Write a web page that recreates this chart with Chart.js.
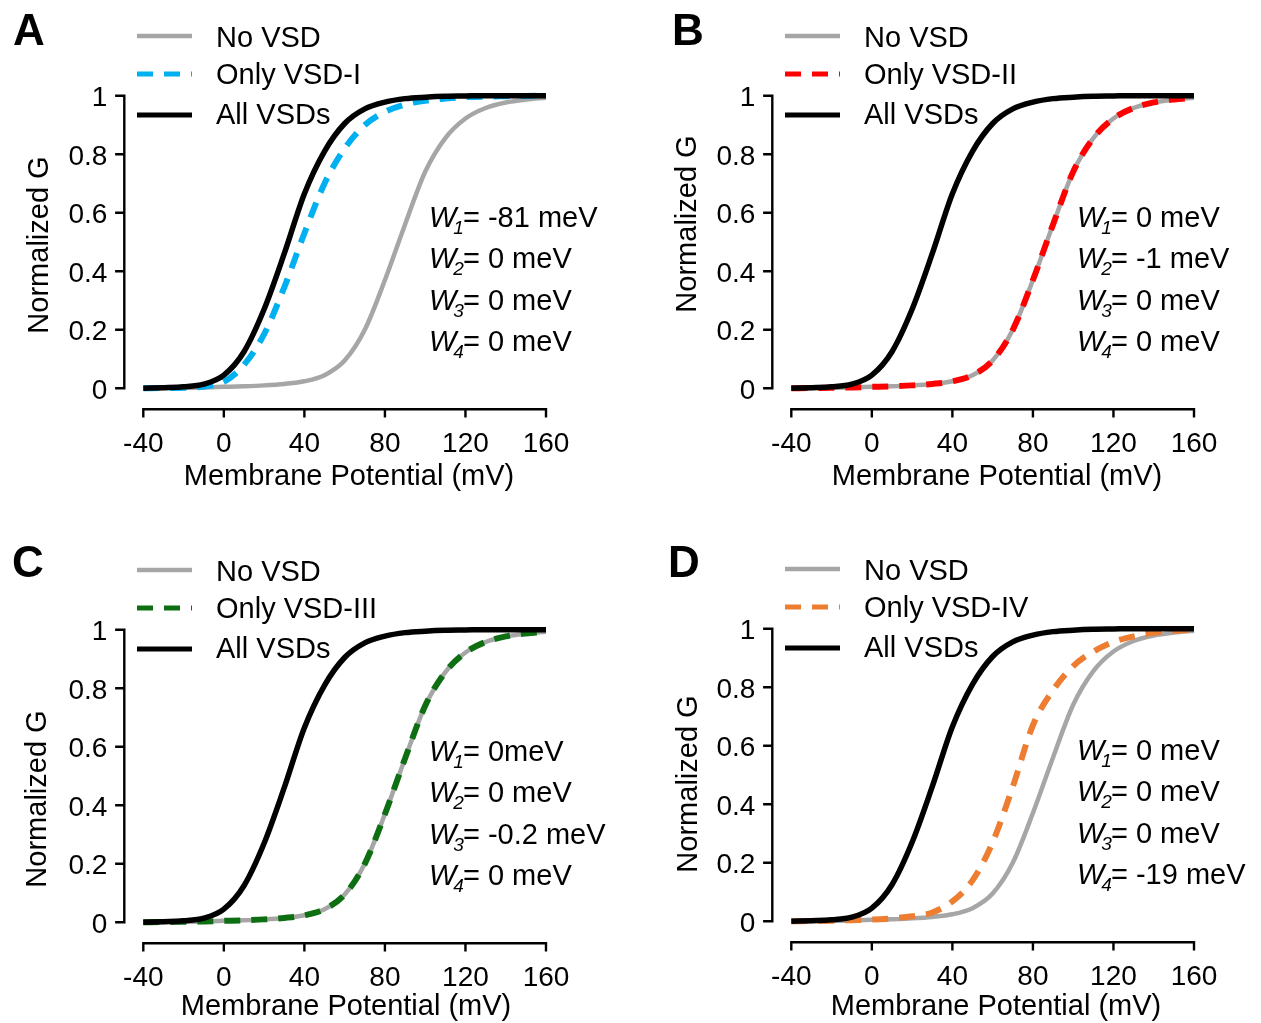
<!DOCTYPE html>
<html>
<head>
<meta charset="utf-8">
<script src="https://cdn.jsdelivr.net/npm/chart.js@4.4.1/dist/chart.umd.min.js"></script>
<style>
  body { margin: 0; background: #fff; overflow: hidden; width: 1261px; height: 1023px; position: relative; }
  canvas { position: absolute; }
</style>
</head>
<body>
<canvas id="panelA" width="613" height="534" style="left:0px;top:0px"></canvas>
<canvas id="panelB" width="613" height="534" style="left:648px;top:0px"></canvas>
<canvas id="panelC" width="613" height="534" style="left:0px;top:534px"></canvas>
<canvas id="panelD" width="613" height="534" style="left:648px;top:533px"></canvas>
<script>
// membrane potential (mV) and normalized conductance of each model
const voltage = [-40, -30, -20, -10, 0, 10, 20, 30, 40, 50, 60, 70, 80, 90, 100, 110, 120, 130, 140, 150, 160];
const allVsds = [0.000, 0.002, 0.005, 0.014, 0.045, 0.125, 0.27, 0.46, 0.665, 0.81, 0.905, 0.955, 0.978, 0.99, 0.995, 0.998, 0.999, 1.0, 1.0, 1.0, 1.0];
const noVsd = [0.000, 0.001, 0.002, 0.003, 0.005, 0.007, 0.010, 0.015, 0.024, 0.045, 0.095, 0.2, 0.37, 0.56, 0.74, 0.855, 0.922, 0.958, 0.977, 0.987, 0.993];
const onlyVsdI = [0.000, 0.001, 0.002, 0.006, 0.022, 0.08, 0.185, 0.345, 0.53, 0.70, 0.82, 0.90, 0.945, 0.97, 0.983, 0.99, 0.995, 0.997, 0.998, 0.999, 1.0];
const onlyVsdII = [0.000, 0.001, 0.002, 0.003, 0.005, 0.007, 0.010, 0.015, 0.024, 0.045, 0.095, 0.2, 0.37, 0.56, 0.74, 0.855, 0.922, 0.958, 0.977, 0.987, 0.993];
const onlyVsdIII = [0.000, 0.001, 0.002, 0.003, 0.005, 0.007, 0.010, 0.015, 0.024, 0.045, 0.095, 0.2, 0.37, 0.56, 0.74, 0.855, 0.922, 0.958, 0.977, 0.987, 0.993];
const onlyVsdIV = [0.000, 0.001, 0.002, 0.004, 0.006, 0.010, 0.017, 0.03, 0.068, 0.14, 0.27, 0.46, 0.67, 0.79, 0.872, 0.922, 0.955, 0.974, 0.986, 0.993, 0.997];

const xTicks = [-40, 0, 40, 80, 120, 160];
const yTicks = [0, 0.2, 0.4, 0.6, 0.8, 1];

// interaction energies per panel
const energiesA = ['= -81 meV', '= 0 meV', '= 0 meV', '= 0 meV'];
const energiesB = ['= 0 meV', '= -1 meV', '= 0 meV', '= 0 meV'];
const energiesC = ['= 0meV', '= 0 meV', '= -0.2 meV', '= 0 meV'];
const energiesD = ['= 0 meV', '= 0 meV', '= 0 meV', '= -19 meV'];

const FONT = '"Liberation Sans", Arial, Helvetica, sans-serif';
const GRAY = '#a6a6a6';

function points(arr) {
  return voltage.map((v, i) => ({ x: v, y: arr[i] }));
}

// axes offset from the plot, legend, W labels and panel letter
const panelDecor = {
  id: 'panelDecor',
  afterDraw(chart, args, o) {
    const ctx = chart.ctx;
    const xs = chart.scales.x;
    const ys = chart.scales.y;
    ctx.save();

    ctx.strokeStyle = '#000';
    ctx.lineWidth = 2.4;
    ctx.lineCap = 'square';
    const ax = xs.left - 19;
    const ay = ys.bottom + 21;
    ctx.beginPath();
    ctx.moveTo(ax, ys.getPixelForValue(yTicks[yTicks.length - 1]));
    ctx.lineTo(ax, ys.getPixelForValue(yTicks[0]));
    yTicks.forEach(v => {
      const p = ys.getPixelForValue(v);
      ctx.moveTo(ax - 8, p);
      ctx.lineTo(ax, p);
    });
    ctx.moveTo(xs.getPixelForValue(xTicks[0]), ay);
    ctx.lineTo(xs.getPixelForValue(xTicks[xTicks.length - 1]), ay);
    xTicks.forEach(v => {
      const p = xs.getPixelForValue(v);
      ctx.moveTo(p, ay);
      ctx.lineTo(p, ay + 7);
    });
    ctx.stroke();

    ctx.fillStyle = '#000';
    ctx.textBaseline = 'alphabetic';

    // axis titles
    ctx.font = '29px ' + FONT;
    ctx.textAlign = 'center';
    ctx.fillText('Membrane Potential (mV)', o.xTitle[0], o.xTitle[1]);
    ctx.save();
    ctx.translate(o.yTitle[0], o.yTitle[1]);
    ctx.rotate(-Math.PI / 2);
    ctx.fillText('Normalized G', 0, 0);
    ctx.restore();

    // panel letter
    ctx.textAlign = 'left';
    ctx.font = 'bold 44px ' + FONT;
    ctx.fillText(o.letter, o.letterPos[0], o.letterPos[1]);

    // legend
    const rows = [36, 74, 115];
    const textRows = [47, 83.5, 123.5];
    chart.data.datasets.forEach((ds, i) => {
      ctx.save();
      ctx.strokeStyle = ds.borderColor;
      ctx.lineWidth = Math.min(ds.borderWidth, 4.8);
      ctx.lineCap = 'butt';
      ctx.setLineDash(ds.borderDash || []);
      ctx.beginPath();
      ctx.moveTo(137, rows[i]);
      ctx.lineTo(192, rows[i]);
      ctx.stroke();
      ctx.restore();
      ctx.font = '29px ' + FONT;
      ctx.fillText(ds.label, 216, textRows[i]);
    });

    // W1..W4 labels
    o.energies.forEach((txt, i) => {
      const y = 226.5 + i * 41.6;
      let x = 429;
      ctx.font = 'italic 29px ' + FONT;
      ctx.fillText('W', x, y);
      x += ctx.measureText('W').width - 3;
      ctx.font = 'italic 19px ' + FONT;
      ctx.fillText(String(i + 1), x, y + 7);
      x += ctx.measureText(String(i + 1)).width - 1;
      ctx.font = '29px ' + FONT;
      ctx.fillText(txt, x, y);
    });

    ctx.restore();
  }
};

function makePanel(id, cfg) {
  new Chart(document.getElementById(id), {
    type: 'line',
    data: {
      datasets: [
        { label: 'No VSD', data: points(noVsd), borderColor: GRAY, borderWidth: 4.5, order: 2, clip: false },
        { label: cfg.label, data: points(cfg.values), borderColor: cfg.color, borderWidth: 6,
          borderDash: [16, 11], order: 1, clip: false },
        { label: 'All VSDs', data: points(allVsds), borderColor: '#000', borderWidth: 5.5, order: 0, clip: false }
      ]
    },
    options: {
      responsive: false,
      animation: false,
      events: [],
      layout: { padding: { left: 43.3, top: 95.7, right: 67, bottom: 60.7 } },
      elements: {
        point: { radius: 0 },
        line: { cubicInterpolationMode: 'monotone', borderCapStyle: 'butt' }
      },
      plugins: {
        legend: { display: false },
        tooltip: { enabled: false },
        panelDecor: cfg.decor
      },
      scales: {
        x: {
          type: 'linear', min: -40, max: 160,
          grid: { display: false, drawTicks: false },
          border: { display: false },
          afterBuildTicks: s => { s.ticks = xTicks.map(v => ({ value: v })); },
          afterFit: s => { s.height = 85; },
          ticks: { padding: 39, color: '#000', font: { family: FONT, size: 28 }, maxRotation: 0,
                   callback: v => String(v) }
        },
        y: {
          min: 0, max: 1,
          grid: { display: false, drawTicks: false },
          border: { display: false },
          afterBuildTicks: s => { s.ticks = yTicks.map(v => ({ value: v })); },
          afterFit: s => { s.width = 100; },
          ticks: { padding: 36, labelOffset: 3, color: '#000', font: { family: FONT, size: 28 },
                   callback: v => String(v) }
        }
      }
    },
    plugins: [panelDecor]
  });
}

makePanel('panelA', {
  label: 'Only VSD-I', values: onlyVsdI, color: '#00b0f0',
  decor: { letter: 'A', letterPos: [13, 45], energies: energiesA, xTitle: [349, 485], yTitle: [48, 245] }
});
makePanel('panelB', {
  label: 'Only VSD-II', values: onlyVsdII, color: '#ff0000',
  decor: { letter: 'B', letterPos: [24, 45], energies: energiesB, xTitle: [349, 485], yTitle: [48, 224] }
});
makePanel('panelC', {
  label: 'Only VSD-III', values: onlyVsdIII, color: '#0d6e12',
  decor: { letter: 'C', letterPos: [12, 43], energies: energiesC, xTitle: [346, 481], yTitle: [46, 265] }
});
makePanel('panelD', {
  label: 'Only VSD-IV', values: onlyVsdIV, color: '#ed7d31',
  decor: { letter: 'D', letterPos: [20, 44], energies: energiesD, xTitle: [348, 482], yTitle: [49, 251] }
});
</script>
</body>
</html>
